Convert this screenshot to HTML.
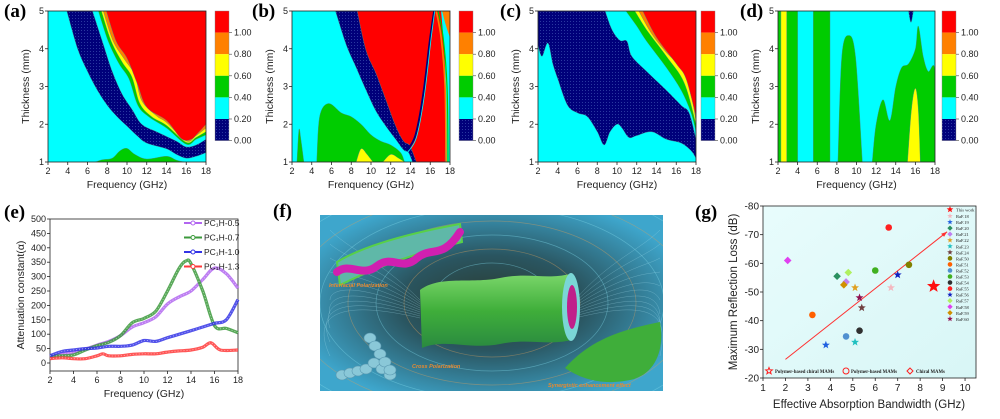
<!DOCTYPE html>
<html><head><meta charset="utf-8"><style>
html,body{margin:0;padding:0;background:#fff;}
svg{display:block;font-family:"Liberation Sans",Arial,sans-serif;}
.lt{font-family:"Liberation Serif",serif;font-weight:bold;font-size:19px;}
.tk{font-size:9px;fill:#222;}
.at{font-size:10.5px;fill:#222;}
</style></head><body>
<svg id="fig" width="1000" height="419" viewBox="0 0 1000 419" xmlns="http://www.w3.org/2000/svg">
<defs>
<pattern id="hatch" width="3" height="3" patternUnits="userSpaceOnUse"><rect width="3" height="3" fill="#00007a"/><rect width="1" height="1" fill="#2a38a0"/></pattern>
<radialGradient id="fbg" cx="50%" cy="50%" r="60%"><stop offset="0" stop-color="#2b3a2e"/><stop offset="0.45" stop-color="#2a5560"/><stop offset="1" stop-color="#3ea6cc"/></radialGradient>
<linearGradient id="cyl" x1="0" y1="0" x2="0" y2="1"><stop offset="0" stop-color="#7ad66a"/><stop offset="0.5" stop-color="#3fae3a"/><stop offset="1" stop-color="#2a8a40"/></linearGradient>
<linearGradient id="gbg" x1="0" y1="0" x2="1" y2="1"><stop offset="0" stop-color="#e8fcfc"/><stop offset="1" stop-color="#d8f6f6"/></linearGradient>
<clipPath id="fclip"><rect x="320" y="215" width="343" height="176"/></clipPath>
</defs>
<g id="root"></g>
</svg>
<script>
// ---------- data ----------
const contourColors = ["#00007a","#00ffff","#00cc00","#ffff00","#ff8000","#ff0000"];
const cbarLabels = ["1.00","0.80","0.60","0.40","0.20","0.00"];
const freqTicks = [2,4,6,8,10,12,14,16,18];
const thickTicks = [1,2,3,4,5];
// panel a boundaries (freq, thickness)
const aNavy = [[3.9,5],[5,4],[6,3.4],[7,2.9],[8,2.5],[9,2.2],[10,1.95],[11,1.7],[12,1.5],[14,1.35],[15,1.2],[16,1.1],[17,1.15],[18,1.25]];
const aCyan = [[6.5,5],[7.5,4.2],[8.5,3.4],[9.5,2.8],[10.5,2.4],[11.5,2.0],[13,1.8],[15,1.55],[16,1.4],[17,1.45],[18,1.6]];
const aGreen = [[7.1,5],[8.1,4.2],[9.2,3.6],[10.2,3.2],[11.1,2.5],[12.2,2.2],[14,1.9],[16,1.47],[17,1.6],[18,1.72]];
const aYellow = [[7.4,5],[8.4,4.2],[9.5,3.65],[10.5,3.25],[11.3,2.55],[12.5,2.2],[14,1.97],[16,1.52],[17,1.65],[18,1.8]];
const aOrange = [[7.6,5],[8.6,4.2],[9.8,3.7],[10.8,3.3],[11.5,2.62],[13,2.22],[14,2.05],[16,1.56],[17,1.7],[18,1.9]];
const aRed = [[7.9,5],[8.9,4.2],[10,3.75],[11,3.1],[12,2.45],[14,2.1],[15.5,1.62],[16.5,1.6],[17.3,1.8],[18,2.0]];
const aBump = [[6.8,1],[7.5,1.06],[8.5,1.1],[9.3,1.3],[10,1.36],[10.8,1.2],[12,1.08],[14,1.15],[15,1.05],[15.8,1]];
// panel b
const bGreen = [[4.5,1],[4.8,2.2],[5.7,2.55],[7,2.3],[8,2.2],[9,2.0],[10,1.72],[11,1.55],[12,1.45],[13,1.25],[13.4,1]];
const bSpike = [[2.5,1],[2.7,1.85],[2.9,1.6],[3.2,1]];
const bYel1 = [[8.5,1],[9,1.35],[9.6,1.2],[10.2,1]];
const bYel2 = [[11.2,1],[12,1.2],[12.8,1.1],[13.4,1]];
const bNavy = [[6.4,5],[7.5,4.1],[8.5,3.5],[9.5,2.9],[10.5,2.35],[11.5,1.95],[12.5,1.6],[13.3,1.32],[13.8,1.25],[14.2,1.0]];
const bRed = [[8.6,5],[9.5,3.95],[10.5,3.35],[11.5,2.65],[12.5,1.95],[13.3,1.55],[13.9,1.45],[14.3,1.2],[14.6,1.0]];
const bLine = [[13.6,1.3],[14.5,1.7],[15.3,2.8],[16,4.3],[16.4,5]];
// panel c
const cNavy = [[2,4.1],[2.4,3.8],[3,4.15],[3.5,3.6],[4,3.2],[5,2.5],[6,2.3],[7,2.2],[8,1.8],[8.7,1.45],[9.3,1.8],[10,2.0],[10.5,1.9],[11.2,1.65],[12,1.7],[13.5,1.8],[15,1.6],[16.5,1.5],[17.5,1.3],[18,1.1]];
const cCyan = [[8.8,5],[9.5,4.5],[10.3,4.22],[11,4.2],[11.5,3.8],[13,3.4],[15,2.9],[16.5,2.5],[17.3,2.3],[18,1.6]];
const cGreen = [[10.9,5],[12,4.6],[13,4.2],[15,3.5],[16.5,2.9],[17.5,2.3],[18,1.8]];
const cYellow = [[11.8,5],[13,4.5],[15,3.8],[16.8,3.1],[18,2.0]];
const cOrange = [[12.2,5],[13.5,4.4],[15,3.9],[17,3.3],[18,2.1]];
const cRed = [[12.6,5],[14,4.3],[16,3.6],[17,3.2],[18,2.2]];
// panel d
const dStrips = [[2,2.3,2],[2.3,2.9,3],[2.9,4,2],[5.6,7.3,2]];
const dBump = [[8.1,1],[8.5,3.8],[9.2,4.35],[9.9,3.8],[10.6,1]];
const dRight = [[11.6,1],[12,2.0],[12.7,2.65],[13.4,2.1],[14,3.0],[14.6,3.5],[15.3,3.6],[16,4.0],[16.3,4.6],[16.8,3.8],[17.3,3.4],[18,3.4],[18,1]];
const dYellow = [[15.2,1],[15.6,2.4],[16,2.95],[16.3,2.4],[16.5,1]];
const dNavy = [[15.3,5],[15.55,4.7],[15.8,5]];
// panel e
const eX05 = [2,3,4,5,6,7,8,9,10,11,12,13,14,15,16,17,18];
const eY05 = [20,30,38,48,62,75,95,125,140,160,205,230,250,290,330,310,260];
const eX07 = [2,3,4,5,6,7,8,9,10,11,12,13,13.6,14,15,16,17,18];
const eY07 = [25,25,28,45,60,72,95,140,155,180,250,330,355,345,250,130,120,105];
const eX10 = [2,3,4,5,6,7,8,9,10,11,12,13,14,15,16,17,18];
const eY10 = [25,40,45,50,52,58,58,62,78,75,88,100,112,125,138,150,220];
const eX13 = [2,3,4,5,6,6.5,7,8,9,10,11,12,13,14,15,15.7,16.5,18];
const eY13 = [15,18,15,15,25,32,25,25,30,32,32,38,42,45,55,70,45,45];
const eYTicks = [0,50,100,150,200,250,300,350,400,450,500];
// panel g
const gNames = ["RaF.18","RaF.19","RaF.20","RaF.21","RaF.22","RaF.23","RaF.24","RaF.50","RaF.51","RaF.52","RaF.53","RaF.54","RaF.55","RaF.56","RaF.57","RaF.58","RaF.59","RaF.60"];
const gEab = [6.7,3.8,4.3,4.7,5.1,5.1,5.4,7.5,3.2,4.7,6.0,5.3,6.6,7.0,4.8,2.1,4.6,5.3];
const gRL = [-51.5,-31.5,-55.5,-53.5,-51.5,-32.5,-44.5,-59.5,-42,-34.5,-57.5,-36.5,-72.5,-56,-56.8,-61,-52.5,-48];
const gShapes = ["star","star","dia","dia","star","star","star","circ","circ","circ","circ","circ","circ","star","dia","dia","dia","star"];
const gColors = ["#f4b8c0","#2060e0","#2a9060","#c080f0","#e0a020","#20c0c0","#704040","#808000","#ff6000","#5090d0","#40b020","#303030","#ff2020","#1020c0","#b0f060","#e040f0","#d09000","#901050"];
const gThisWork = [8.6,-52];
const gTrend = [[2,-26.5],[9.2,-71]];
const gXTicks = [1,2,3,4,5,6,7,8,9,10];
const gYTicks = [-80,-70,-60,-50,-40,-30,-20];

// ---------- helpers ----------
const NS="http://www.w3.org/2000/svg";
const root=document.getElementById('root');
function mk(tag,attrs,parent,text){const e=document.createElementNS(NS,tag);for(const k in attrs)e.setAttribute(k,attrs[k]);if(text!==undefined)e.textContent=text;(parent||root).appendChild(e);return e;}
function smooth(pts){
  let d="M"+pts[0][0].toFixed(1)+","+pts[0][1].toFixed(1);
  for(let i=0;i<pts.length-1;i++){const p0=pts[i-1]||pts[i],p1=pts[i],p2=pts[i+1],p3=pts[i+2]||p2;
    const c1=[p1[0]+(p2[0]-p0[0])/6,p1[1]+(p2[1]-p0[1])/6],c2=[p2[0]-(p3[0]-p1[0])/6,p2[1]-(p3[1]-p1[1])/6];
    d+="C"+c1[0].toFixed(1)+","+c1[1].toFixed(1)+" "+c2[0].toFixed(1)+","+c2[1].toFixed(1)+" "+p2[0].toFixed(1)+","+p2[1].toFixed(1);}
  return d;}

function contourPanel(id,x0,x1,y0,y1,cb0,letter,lx,xlabel,drawFn){
  const g=mk('g',{});
  
  
  const sx=f=>x0+(f-2)/16*(x1-x0), sy=t=>y1-(t-1)/4*(y1-y0);
  const P=pts=>pts.map(p=>[sx(p[0]),sy(p[1])]);
  const plot=mk('g',{},g);
  
  
  mk('rect',{x:x0,y:y0,width:x1-x0,height:y1-y0,fill:'#00ffff'},plot);
  const clip=mk('clipPath',{id:'clip'+id},g);mk('rect',{x:x0,y:y0,width:x1-x0,height:y1-y0},clip);
  const inner=mk('g',{'clip-path':'url(#clip'+id+')'},plot);
  const fill=(c)=>c===0?'url(#hatch)':contourColors[c];
  const above=(pts,c,extra)=>{const e=mk('path',{d:smooth(P(pts))+extra.map(p=>'L'+sx(p[0])+','+sy(p[1])).join('')+'Z',fill:fill(c),stroke:'#4a8a8a','stroke-width':0.4},inner);return e;};
  const blob=(pts,c)=>{const e=mk('path',{d:smooth(P(pts))+'Z',fill:fill(c),stroke:'#4a8a8a','stroke-width':0.4},inner);return e;};
  drawFn(above,blob,sx,sy,inner,P);
  mk('rect',{x:x0,y:y0,width:x1-x0,height:y1-y0,fill:'none',stroke:'#222','stroke-width':0.8},g);
  freqTicks.forEach(f=>{mk('line',{x1:sx(f),x2:sx(f),y1:y1,y2:y1+3,stroke:'#222','stroke-width':0.8},g);
    const t=mk('text',{x:sx(f),y:y1+12,'text-anchor':'middle',class:'tk'},g,String(f));});
  thickTicks.forEach(v=>{mk('line',{x1:x0-3,x2:x0,y1:sy(v),y2:sy(v),stroke:'#222','stroke-width':0.8},g);
    const t=mk('text',{x:x0-4,y:sy(v)+3,'text-anchor':'end',class:'tk'},g,String(v));});
  const xt=mk('text',{x:(x0+x1)/2,y:y1+26,'text-anchor':'middle',class:'at'},g,xlabel);
  const yt=mk('text',{x:0,y:0,'text-anchor':'middle',class:'at',transform:'translate('+(x0-19)+','+((y0+y1)/2)+') rotate(-90)'},g,'Thickness (mm)');
  const lt=mk('text',{x:lx,y:17,class:'lt'},g,letter);
  const cb=mk('g',{},g);
  const h=21.6;
  for(let i=0;i<6;i++){const c=5-i;const r=mk('rect',{x:cb0,y:11+i*h,width:14,height:h,fill:fill(c)},cb);}
  mk('rect',{x:cb0,y:11,width:14,height:6*h,fill:'none',stroke:'#888','stroke-width':0.4},cb);
  cbarLabels.forEach((l,i)=>{mk('line',{x1:cb0+14,x2:cb0+17,y1:11+(i+1)*h,y2:11+(i+1)*h,stroke:'#444','stroke-width':0.6},cb);
    const t=mk('text',{x:cb0+19,y:11+(i+1)*h+3,class:'tk'},cb,l);});
}

// (a)
contourPanel('a',48,206,11,162,215,'(a)',4,'Frequency (GHz)',(above,blob)=>{
  above(aNavy,0,[[18,5]]);above(aCyan,1,[[18,5]]);above(aGreen,2,[[18,5]]);above(aYellow,3,[[18,5]]);above(aOrange,4,[[18,5]]);above(aRed,5,[[18,5]]);
  blob(aBump,2);
});
// (b)
contourPanel('b',292,450,11,162,459,'(b)',252,'Frenquency (GHz)',(above,blob,sx,sy,inner,P)=>{
  blob(bSpike,2);blob(bGreen,2);blob(bYel1,3);blob(bYel2,3);
  above(bNavy,0,[[18,1],[18,5]]);
  above(bRed,5,[[17.5,1],[17.6,3],[17.3,5]]);
  // right cyan area beyond red
  const rc=mk('path',{d:smooth(P([[17.1,5],[17.5,3.5],[17.6,1]]))+'L'+sx(18)+','+sy(1)+'L'+sx(18)+','+sy(5)+'Z',fill:'#00ffff'},inner);
  
  mk('path',{d:smooth(P(bLine)),stroke:'#00007a','stroke-width':2,fill:'none'},inner);
  mk('path',{d:smooth(P([[13.7,1.25],[14.6,1.65],[15.4,2.75],[16.1,4.3],[16.45,5]])),stroke:'#00ffff','stroke-width':0.8,fill:'none'},inner);
  mk('path',{d:smooth(P([[16.6,5],[17.1,4.3],[17.5,3],[17.6,1]])),stroke:'#ff8000','stroke-width':1.6,fill:'none'},inner);
  mk('path',{d:smooth(P([[16.8,5],[17.3,4.3],[17.7,3],[17.8,1]])),stroke:'#00cc00','stroke-width':1.2,fill:'none'},inner);
  mk('path',{d:smooth(P([[17.2,5],[17.6,4.6],[18,4.3]]))+'L'+sx(18)+','+sy(5)+'Z',fill:'#ff8000'},inner);
});
// (c)
contourPanel('c',538,696,11,162,701,'(c)',500,'Frequency (GHz)',(above)=>{
  above(cNavy,0,[[18,5],[2,5]]);above(cCyan,1,[[18,5]]);above(cGreen,2,[[18,5]]);above(cYellow,3,[[18,5]]);above(cOrange,4,[[18,5]]);above(cRed,5,[[18,5]]);
});
// (d)
contourPanel('d',778,935,11,162,942,'(d)',740,'Frequency (GHz)',(above,blob,sx,sy,inner)=>{
  dStrips.forEach(s=>{const r=mk('rect',{x:sx(s[0]),y:sy(5),width:sx(s[1])-sx(s[0]),height:sy(1)-sy(5),fill:contourColors[s[2]],stroke:'#4a8a8a','stroke-width':0.4},inner);});
  blob(dBump,2);blob(dRight,2);blob(dYellow,3);blob(dNavy,0);
});

// (e) line chart
(function(){
  const x0=50,x1=238,y0=219,y1=363;
  const g=mk('g',{});
  const sx=f=>x0+(f-2)/16*(x1-x0), sy=v=>y1-v/500*(y1-y0);
  mk('rect',{x:x0,y:y0,width:x1-x0,height:371-y0,fill:'none',stroke:'#222','stroke-width':0.8},g);
  freqTicks.forEach(f=>{mk('line',{x1:sx(f),x2:sx(f),y1:371,y2:374,stroke:'#222','stroke-width':0.8},g);
    const t=mk('text',{x:sx(f),y:383,'text-anchor':'middle',class:'tk'},g,String(f));});
  eYTicks.forEach(v=>{mk('line',{x1:x0-3,x2:x0,y1:sy(v),y2:sy(v),stroke:'#222','stroke-width':0.8},g);
    const t=mk('text',{x:x0-4,y:sy(v)+3,'text-anchor':'end',class:'tk'},g,String(v));});
  const xt=mk('text',{x:(x0+x1)/2,y:397,'text-anchor':'middle',class:'at'},g,'Frequency (GHz)');
  const yt=mk('text',{x:0,y:0,'text-anchor':'middle',class:'at',transform:'translate(24,295) rotate(-90)'},g,'Attenuation constant(α)');
  const lt=mk('text',{x:4,y:218,class:'lt'},g,'(e)');
  const series=[[eX05,eY05,'#b266f0','PC₁H-0.5'],[eX07,eY07,'#3c9a3c','PC₁H-0.7'],[eX10,eY10,'#3434e6','PC₁H-1.0'],[eX13,eY13,'#ff3a3a','PC₁H-1.3']];
  series.forEach((s,i)=>{
    const pts=s[0].map((x,j)=>[sx(x),sy(s[1][j])]);
    const p=mk('path',{d:smooth(pts),fill:'none',stroke:s[2],'stroke-width':3.2,opacity:0.85},g);
    
    mk('path',{d:smooth(pts),fill:'none',stroke:'#fff','stroke-width':0.8,'stroke-dasharray':'1 2',opacity:0.6},g);
    const ly=223+i*14.5;
    const le=mk('g',{},g);
    mk('line',{x1:184,x2:202,y1:ly,y2:ly,stroke:s[2],'stroke-width':2},le);
    mk('circle',{cx:193,cy:ly,r:2,fill:'#fff',stroke:s[2],'stroke-width':1},le);
    mk('text',{x:204,y:ly+3,style:'font-size:8.5px',fill:'#222'},le,s[3]);
  });
})();

// (f) illustration
(function(){
  const g0=mk('g',{});
  const lt=mk('text',{x:273,y:217,class:'lt'},g0,'(f)');
  const g=mk('g',{'clip-path':'url(#fclip)'},g0);
  mk('rect',{x:320,y:215,width:343,height:176,fill:'url(#fbg)'},g);
  for(let i=0;i<7;i++){mk('ellipse',{cx:492,cy:303,rx:60+i*28,ry:40+i*14,fill:'none',stroke:i%2?'#d4a060':'#7fd8e8','stroke-width':0.7,opacity:0.45},g);}
  for(let i=0;i<10;i++){mk('path',{d:`M420,${300+i*2} C${380-i*6},${260+i*4} ${350-i*4},${250+i*8} 330,${230+i*14}`,fill:'none',stroke:'#a8e0f0','stroke-width':0.5,opacity:0.4},g);
    mk('path',{d:`M575,${300+i*2} C${610+i*6},${260+i*4} ${640+i*3},${250+i*8} 660,${230+i*14}`,fill:'none',stroke:'#a8e0f0','stroke-width':0.5,opacity:0.4},g);}
  mk('path',{d:'M337,262 C360,248 400,235 460,224 L462,242 C420,252 380,265 340,285 Z',fill:'#5fb8a8',stroke:'#58d048','stroke-width':2},g);
  mk('path',{d:'M337,272 C350,262 362,278 377,266 C392,254 402,272 417,258 C432,246 442,260 460,232',fill:'none',stroke:'#d020b0','stroke-width':8,'stroke-linecap':'round'},g);
  const cyl=mk('path',{d:'M420,290 C440,275 470,284 500,278 C530,272 545,280 570,274 L572,340 C545,346 530,338 500,344 C470,350 445,338 422,348 Z',fill:'url(#cyl)'},g);
  
  mk('ellipse',{cx:571,cy:307,rx:9,ry:34,fill:'#7ad6d6'},g);
  mk('ellipse',{cx:572,cy:307,rx:5,ry:22,fill:'#c0208a'},g);
  mk('path',{d:'M565,368 C590,340 620,330 660,322 C665,350 655,375 630,380 C600,386 580,378 565,368 Z',fill:'#3fae3a'},g);
  for(let i=0;i<7;i++){mk('ellipse',{cx:342+i*8,cy:375-(i<4?i*2:(6-i)*6),rx:6,ry:5,fill:'#8ac8d8',stroke:'#5a98b0','stroke-width':0.6},g);}
  for(let i=0;i<5;i++){mk('ellipse',{cx:370+i*5,cy:338+i*8,rx:6,ry:5,fill:'#8ac8d8',stroke:'#5a98b0','stroke-width':0.6},g);}
  const st='font-size:5.5px;font-style:italic;font-weight:bold;fill:#e88a30';
  mk('text',{x:329,y:287,style:st},g,'Interfacial Polarization');
  mk('text',{x:412,y:368,style:st},g,'Cross Polarization');
  mk('text',{x:548,y:387,style:st},g,'Synergistic enhancement effect');
})();

// (g) scatter
(function(){
  const x0=763,x1=976,y0=206,y1=378;
  const g=mk('g',{});
  const sx=v=>x0+(v-1)*22.45, sy=v=>y0+(v+80)/60*(y1-y0);
  mk('rect',{x:x0,y:y0,width:x1-x0,height:y1-y0,fill:'url(#gbg)',stroke:'#222','stroke-width':0.8},g);
  gXTicks.forEach(v=>{mk('line',{x1:sx(v),x2:sx(v),y1:y1,y2:y1+3,stroke:'#222','stroke-width':0.8},g);
    const t=mk('text',{x:sx(v),y:y1+13,'text-anchor':'middle',style:'font-size:10px',fill:'#222'},g,String(v));});
  gYTicks.forEach(v=>{mk('line',{x1:x0-3,x2:x0,y1:sy(v),y2:sy(v),stroke:'#222','stroke-width':0.8},g);
    const t=mk('text',{x:x0-4,y:sy(v)+3.5,'text-anchor':'end',style:'font-size:10px',fill:'#222'},g,String(v));});
  const xt=mk('text',{x:869,y:408,'text-anchor':'middle',style:'font-size:11.5px',fill:'#222'},g,'Effective Absorption Bandwidth (GHz)');
  const yt=mk('text',{x:0,y:0,'text-anchor':'middle',style:'font-size:11.5px',fill:'#222',transform:'translate(737,292) rotate(-90)'},g,'Maximum Reflection Loss (dB)');
  const lt=mk('text',{x:695,y:218,class:'lt'},g,'(g)');
  const tl=mk('line',{x1:sx(gTrend[0][0]),y1:sy(gTrend[0][1]),x2:sx(gTrend[1][0]),y2:sy(gTrend[1][1]),stroke:'#ff3030','stroke-width':1},g);
  
  mk('path',{d:'M'+sx(gTrend[1][0])+','+sy(gTrend[1][1])+' l-6,2 l3,3 Z',fill:'#ff3030'},g);
  function star(cx,cy,r,col,parent){let d='';for(let i=0;i<10;i++){const a=-Math.PI/2+i*Math.PI/5,rr=i%2?r*0.42:r;d+=(i?'L':'M')+(cx+rr*Math.cos(a)).toFixed(1)+','+(cy+rr*Math.sin(a)).toFixed(1);}return mk('path',{d:d+'Z',fill:col},parent);}
  function marker(shape,cx,cy,col,parent,s){s=s||1;
    if(shape==='star')return star(cx,cy,4.2*s,col,parent);
    if(shape==='dia')return mk('path',{d:`M${cx},${cy-3.8*s}L${cx+3.8*s},${cy}L${cx},${cy+3.8*s}L${cx-3.8*s},${cy}Z`,fill:col},parent);
    return mk('circle',{cx:cx,cy:cy,r:3.3*s,fill:col},parent);}
  gEab.forEach((v,i)=>{const m=marker(gShapes[i],sx(v),sy(gRL[i]),gColors[i],g);});
  const tw=star(sx(gThisWork[0]),sy(gThisWork[1]),7,'#ff1010',g);
  const lg=mk('g',{},g);
  const e0=mk('g',{},lg);
  star(950,209.5,3.5,'#ff1010',e0);mk('text',{x:956,y:211.5,style:'font-size:4.5px;font-family:Liberation Serif,serif',fill:'#222'},e0,'This work');
  gNames.forEach((n,i)=>{const y=216+i*6.05;const e=mk('g',{},lg);
    marker(gShapes[i],950,y,gColors[i],e,0.7);mk('text',{x:956,y:y+2,style:'font-size:4.5px;font-family:Liberation Serif,serif',fill:'#222'},e,n);});
  const bl=mk('g',{},g);
  const bs='font-size:4.8px;font-family:Liberation Serif,serif;font-weight:bold';
  star(769,371,3.5,'none',bl).setAttribute('stroke','#ff2020');
  mk('text',{x:775,y:373,style:bs,fill:'#222'},bl,'Polymer-based chiral MAMs');
  mk('circle',{cx:846,cy:371,r:3,fill:'none',stroke:'#ff2020'},bl);
  mk('text',{x:851,y:373,style:bs,fill:'#222'},bl,'Polymer-based MAMs');
  mk('path',{d:'M910,368L913,371L910,374L907,371Z',fill:'none',stroke:'#ff2020'},bl);
  mk('text',{x:916,y:373,style:bs,fill:'#222'},bl,'Chiral MAMs');
})();
</script>
</body></html>
